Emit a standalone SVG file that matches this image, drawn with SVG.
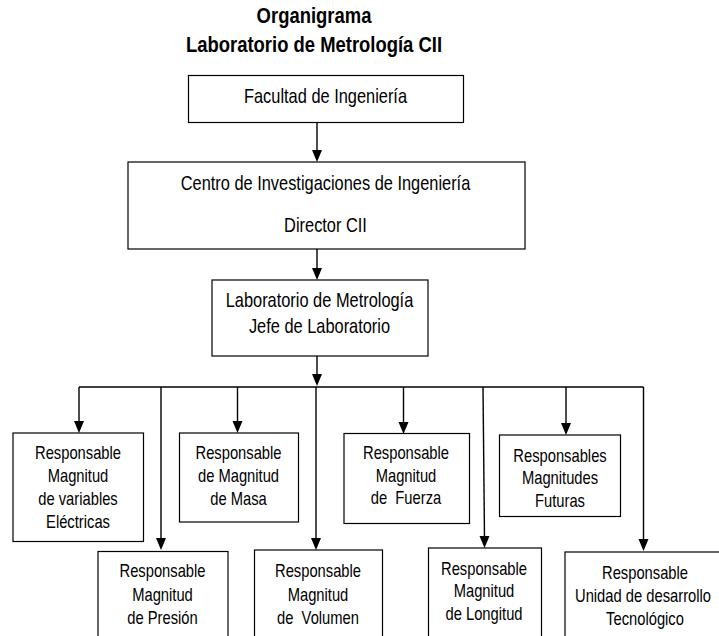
<svg xmlns="http://www.w3.org/2000/svg" width="719" height="636" viewBox="0 0 719 636">
<style>
.box{fill:#fff;stroke:#000;stroke-width:1.2}
text{font-family:"Liberation Sans",Arial,sans-serif;fill:#000;text-anchor:middle}
.t{font-size:22.5px;font-weight:bold}
.l{font-size:20px}
.s{font-size:18px}
.c{stroke:#000;stroke-width:1.4;fill:none}
</style>
<rect width="719" height="636" fill="#fff"/>
<g id="title">
<text class="t" transform="translate(314,23) scale(0.82,1)">Organigrama</text>
<text class="t" transform="translate(314,52) scale(0.82,1)">Laboratorio de Metrología CII</text>
</g>
<g id="connectors">
<line class="c" x1="317" y1="122" x2="317" y2="152"/>
<line class="c" x1="317" y1="249" x2="317" y2="270"/>
<line class="c" x1="317" y1="356" x2="317" y2="376"/>
<line class="c" x1="79" y1="387" x2="643.5" y2="387"/>
<line class="c" x1="79" y1="387" x2="79" y2="423"/>
<line class="c" x1="161" y1="387" x2="161" y2="540"/>
<line class="c" x1="237.5" y1="387" x2="237.5" y2="423"/>
<line class="c" x1="316" y1="387" x2="316" y2="540"/>
<line class="c" x1="403.5" y1="387" x2="403.5" y2="424"/>
<line class="c" x1="483" y1="387" x2="484.5" y2="538"/>
<line class="c" x1="566" y1="387" x2="566" y2="425"/>
<line class="c" x1="643.5" y1="387" x2="643.5" y2="541"/>
<g id="arrowheads" fill="#000">
<path d="M312,150 L322,150 L317,162 Z"/>
<path d="M312,268 L322,268 L317,280 Z"/>
<path d="M312,374 L322,374 L317,386 Z"/>
<path d="M74,421 L84,421 L79,433 Z"/>
<path d="M156,538 L166,538 L161,550 Z"/>
<path d="M232.5,421 L242.5,421 L237.5,433 Z"/>
<path d="M311,538 L321,538 L316,550 Z"/>
<path d="M398.5,422 L408.5,422 L403.5,434 Z"/>
<path d="M479.5,536 L489.5,536 L484.5,548 Z"/>
<path d="M561,423 L571,423 L566,435 Z"/>
<path d="M638.5,539 L648.5,539 L643.5,551 Z"/>
</g>
</g>
<g id="facultad">
<rect class="box" x="188.5" y="75.5" width="275" height="47"/>
<text class="l" transform="translate(325.5,103) scale(0.82,1)">Facultad de Ingeniería</text>
</g>
<g id="centro">
<rect class="box" x="128" y="162" width="397" height="87"/>
<text class="l" transform="translate(325.5,190) scale(0.82,1)">Centro de Investigaciones de Ingeniería</text>
<text class="l" transform="translate(325.5,231.5) scale(0.82,1)">Director CII</text>
</g>
<g id="laboratorio">
<rect class="box" x="212" y="280" width="216" height="76"/>
<text class="l" transform="translate(319.5,306.5) scale(0.82,1)">Laboratorio de Metrología</text>
<text class="l" transform="translate(319.5,332.5) scale(0.82,1)">Jefe de Laboratorio</text>
</g>
<g id="electricas">
<rect class="box" x="13" y="433" width="130.5" height="108.5"/>
<text class="s" transform="translate(78,459) scale(0.82,1)">Responsable</text>
<text class="s" transform="translate(78,482) scale(0.82,1)">Magnitud</text>
<text class="s" transform="translate(78,505) scale(0.82,1)">de variables</text>
<text class="s" transform="translate(78,528) scale(0.82,1)">Eléctricas</text>
</g>
<g id="masa">
<rect class="box" x="179.5" y="433" width="119" height="89"/>
<text class="s" transform="translate(238.5,459) scale(0.82,1)">Responsable</text>
<text class="s" transform="translate(238.5,482) scale(0.82,1)">de Magnitud</text>
<text class="s" transform="translate(238.5,505) scale(0.82,1)">de Masa</text>
</g>
<g id="fuerza">
<rect class="box" x="344" y="433.5" width="125.5" height="90"/>
<text class="s" transform="translate(406,459) scale(0.82,1)">Responsable</text>
<text class="s" transform="translate(406,481.5) scale(0.82,1)">Magnitud</text>
<text class="s" transform="translate(406,504) scale(0.82,1)" xml:space="preserve">de  Fuerza</text>
</g>
<g id="futuras">
<rect class="box" x="499.5" y="435" width="121" height="81.5"/>
<text class="s" transform="translate(560,461.5) scale(0.82,1)">Responsables</text>
<text class="s" transform="translate(560,484) scale(0.82,1)">Magnitudes</text>
<text class="s" transform="translate(560,506.5) scale(0.82,1)">Futuras</text>
</g>
<g id="presion">
<rect class="box" x="98" y="551.5" width="130" height="100"/>
<text class="s" transform="translate(162.5,576.5) scale(0.82,1)">Responsable</text>
<text class="s" transform="translate(162.5,600.5) scale(0.82,1)">Magnitud</text>
<text class="s" transform="translate(162.5,623.5) scale(0.82,1)">de Presión</text>
</g>
<g id="volumen">
<rect class="box" x="254.5" y="550" width="128" height="100"/>
<text class="s" transform="translate(318,576.5) scale(0.82,1)">Responsable</text>
<text class="s" transform="translate(318,600.5) scale(0.82,1)">Magnitud</text>
<text class="s" transform="translate(318,623.5) scale(0.82,1)" xml:space="preserve">de  Volumen</text>
</g>
<g id="longitud">
<rect class="box" x="428.5" y="548" width="113" height="100"/>
<text class="s" transform="translate(484,575) scale(0.82,1)">Responsable</text>
<text class="s" transform="translate(484,597) scale(0.82,1)">Magnitud</text>
<text class="s" transform="translate(484,620) scale(0.82,1)">de Longitud</text>
</g>
<g id="unidad">
<rect class="box" x="565" y="552" width="160" height="100"/>
<text class="s" transform="translate(645,578.5) scale(0.82,1)">Responsable</text>
<text class="s" transform="translate(643,601.5) scale(0.82,1)">Unidad de desarrollo</text>
<text class="s" transform="translate(645,625) scale(0.82,1)">Tecnológico</text>
</g>
</svg>
